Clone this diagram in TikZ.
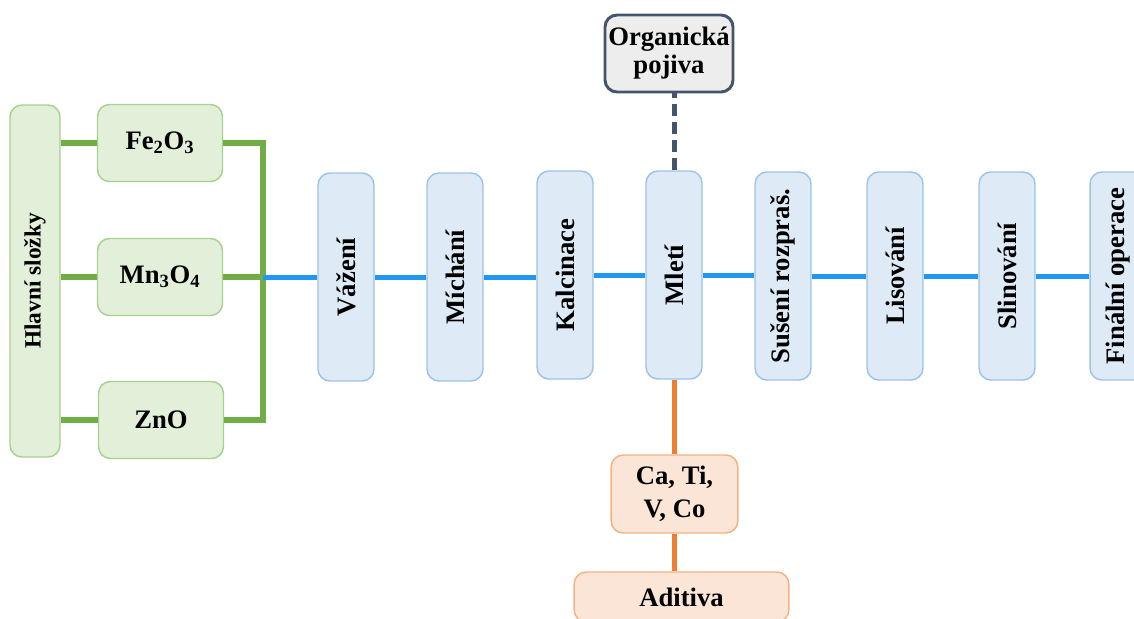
\documentclass[tikz,border=0pt]{standalone}
\usepackage{fontspec}
\setmainfont{Liberation Serif}
\usepackage{graphicx}

\definecolor{gline}{HTML}{70AD47}
\definecolor{gfill}{HTML}{E2F0D9}
\definecolor{gdraw}{HTML}{A9D18E}
\definecolor{bline}{HTML}{2196F3}
\definecolor{bfill}{HTML}{DEEBF7}
\definecolor{bdraw}{HTML}{9DC3E6}
\definecolor{sfill}{HTML}{EDEDED}
\definecolor{sdraw}{HTML}{44546A}
\definecolor{ofill}{HTML}{FBE5D6}
\definecolor{odraw}{HTML}{F4B183}
\definecolor{oline}{HTML}{ED7D31}

\newcommand{\vtext}[1]{\rotatebox{90}{#1}}

\begin{document}
\begin{tikzpicture}[x=0.75pt, y=-0.75pt,
  nodes={font=\fontsize{20}{21}\selectfont\bfseries, align=center, inner sep=1pt},
  box/.style={draw, rounded corners=9pt, line width=1.1pt},
  greenbox/.style={box, draw=gdraw, fill=gfill, minimum width=93.75pt, minimum height=57.75pt},
  stepbox/.style={box, draw=bdraw, fill=bfill, minimum width=42pt, minimum height=156pt},
  orangebox/.style={box, draw=odraw, fill=ofill},
  greenline/.style={draw=gline, line width=4.5pt},
  blueline/.style={draw=bline, line width=3.75pt},
  orangeline/.style={draw=oline, line width=3.75pt}]
\useasboundingbox (0,0) rectangle (1134,618);
\clip (0,0) rectangle (1134,618);

\node[box, draw=gdraw, fill=gfill, minimum width=37.5pt, minimum height=264pt, font=\fontsize{17.5}{20}\selectfont\bfseries] (hl) at (35,281) {\vtext{Hlavní složky}};
\node[greenbox] (fe) at (160,143) {Fe\textsubscript{2}O\textsubscript{3}};
\node[greenbox] (mn) at (160,277) {Mn\textsubscript{3}O\textsubscript{4}};
\node[greenbox] (zn) at (161,420) {ZnO};

\node[stepbox] (vaz) at (346,277) {\vtext{Vážení}};
\node[stepbox] (mic) at (455,277) {\vtext{Míchání}};
\node[stepbox] (kal) at (565,275) {\vtext{Kalcinace}};
\node[stepbox] (mle) at (674,275) {\vtext{Mletí}};
\node[stepbox] (sus) at (783,276) {\vtext{Sušení rozpraš.}};
\node[stepbox] (lis) at (895,276) {\vtext{Lisování}};
\node[stepbox] (sli) at (1007,276) {\vtext{Slinování}};
\node[stepbox] (fin) at (1118,276) {\vtext{Finální operace}};

\node[box, draw=sdraw, fill=sfill, line width=2.2pt, minimum width=96pt, minimum height=57.75pt] (org) at (669,53.5) {Organická\\pojiva};
\node[orangebox, minimum width=95pt, minimum height=58.5pt] (cati) at (674.5,494) {Ca, Ti,\\[4pt]V, Co};
\node[orangebox, minimum width=161pt, minimum height=37.5pt] (adi) at (681.5,597) {Aditiva};

\coordinate (j) at (263,277);
\draw[greenline] (fe.west -| hl.east) -- (fe.west);
\draw[greenline] (mn.west -| hl.east) -- (mn.west);
\draw[greenline] (zn.west -| hl.east) -- (zn.west);
\draw[greenline] (fe.east) -| (j) |- (zn.east);
\draw[greenline] (mn.east) -- (j);

\draw[blueline] (j) -- (vaz.west);
\draw[blueline] (vaz.east) -- (mic.west);
\draw[blueline] (mic.east) -- (mic.east -| kal.west);
\draw[blueline] (kal.east) -- (mle.west);
\draw[blueline] (mle.east) -- (mle.east -| sus.west);
\draw[blueline] (sus.east) -- (lis.west);
\draw[blueline] (lis.east) -- (sli.west);
\draw[blueline] (sli.east) -- (fin.west);

\draw[draw=sdraw, line width=3.75pt, dash pattern=on 9pt off 4.5pt] (mle.north) -- (mle.north |- org.south);
\draw[orangeline] (mle.south) -- (mle.south |- cati.north);
\draw[orangeline] (cati.south) -- (cati.south |- adi.north);
\end{tikzpicture}
\end{document}
